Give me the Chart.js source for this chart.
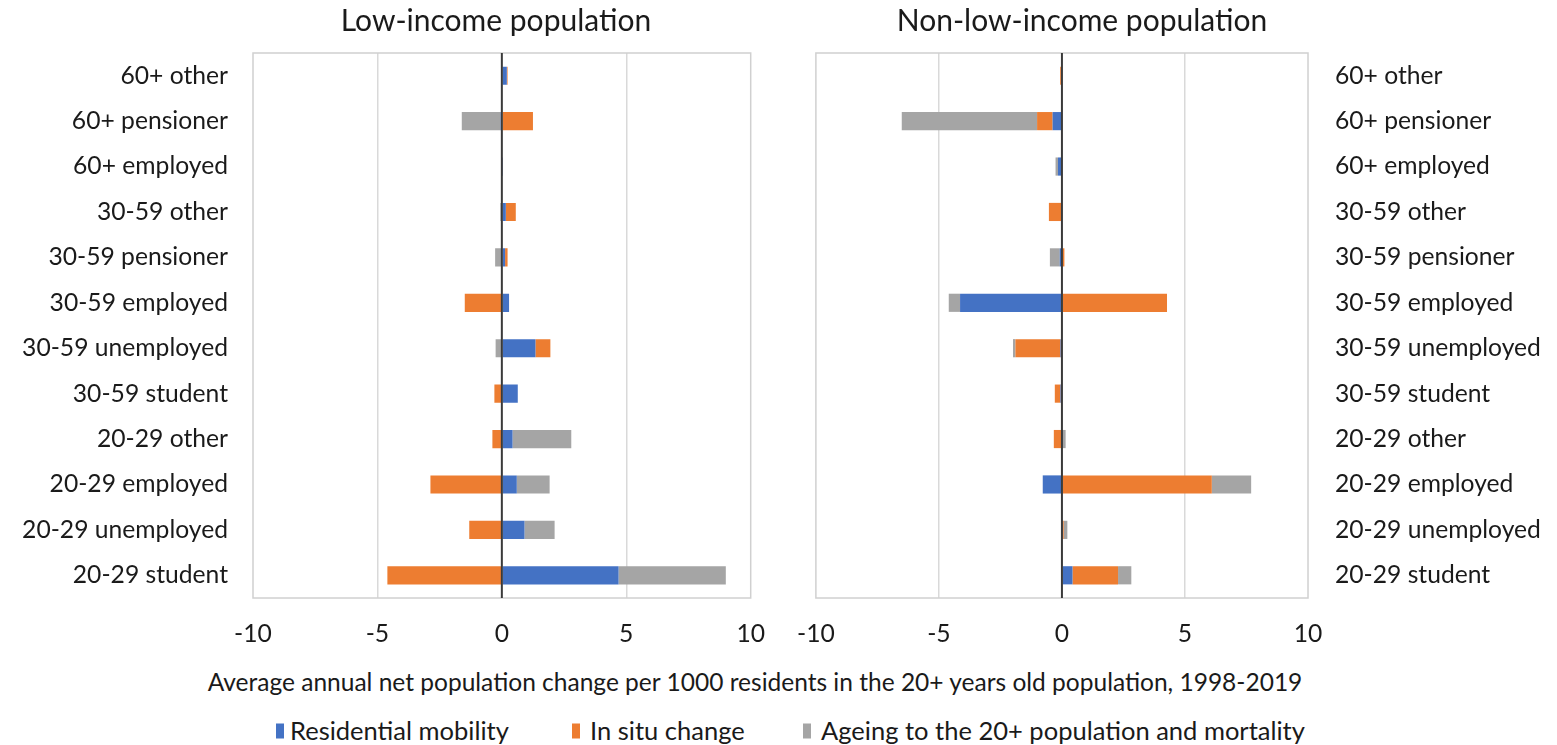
<!DOCTYPE html>
<html><head><meta charset="utf-8">
<script src="https://cdn.jsdelivr.net/npm/chart.js@4.4.1/dist/chart.umd.min.js"></script>
<style>
body{margin:0;background:#fff;}
#wrap{position:relative;width:1557px;height:745px;overflow:hidden;font-family:Lato,sans-serif;color:#1a1a1a;background:#fff}
canvas{position:absolute;top:0}
.t{position:absolute;white-space:nowrap;transform:translate(-50%,-50%);line-height:1}
.lt{position:absolute;white-space:nowrap;transform:translateY(-50%);line-height:1}
.sw{position:absolute;width:8px;height:15px;transform:translateY(-50%)}
</style></head><body>
<div id="wrap">
  <canvas id="c1" width="786" height="660" style="left:0px"></canvas>
  <canvas id="c2" width="781" height="660" style="left:776px"></canvas>
  <div class="t" id="t1" style="left:496px;top:19px">Low-income population</div>
  <div class="t" id="t2" style="left:1082px;top:19px">Non-low-income population</div>
  <div class="t" id="xt" style="left:755px;top:682px">Average annual net population change per 1000 residents in the 20+ years old population, 1998-2019</div>
  <div id="legend"></div>
</div>
<script>
const categories = ["60+ other","60+ pensioner","60+ employed","30-59 other","30-59 pensioner","30-59 employed","30-59 unemployed","30-59 student","20-29 other","20-29 employed","20-29 unemployed","20-29 student"];
const seriesNames = ["Residential mobility","In situ change","Ageing to the 20+ population and mortality"];
const seriesColors = ["#4472C4","#ED7D31","#A5A5A5"];
const xTicks = [-10,-5,0,5,10];

const lowMobility = [0.2, -0.05, 0.01, 0.16, 0.13, 0.29, 1.35, 0.64, 0.43, 0.6, 0.91, 4.69];
const lowInSitu   = [0.03, 1.25, 0, 0.4, 0.1, -1.49, 0.6, -0.3, -0.38, -2.87, -1.31, -4.6];
const lowAgeing   = [-0.03, -1.56, -0.02, -0.06, -0.27, 0, -0.25, 0, 2.36, 1.32, 1.21, 4.31];

const highMobility = [0, -0.38, -0.16, -0.03, -0.09, -4.14, -0.06, -0.06, 0.02, -0.78, 0.02, 0.43];
const highInSitu   = [-0.07, -0.63, 0, -0.5, 0.1, 4.27, -1.83, -0.23, -0.33, 6.09, 0.05, 1.85];
const highAgeing   = [0, -5.5, -0.1, 0, -0.4, -0.46, -0.1, 0, 0.13, 1.6, 0.15, 0.54];

const FONT = 'Lato';
function fit(text, target){
  const c = document.createElement('canvas').getContext('2d');
  c.font = '100px ' + FONT;
  return 100 * target / c.measureText(text).width;
}
const labelSize = fit("30-59 unemployed", 206);
const titleSize = (fit("Low-income population", 311) + fit("Non-low-income population", 370)) / 2;
const axisTitleSize = fit("Average annual net population change per 1000 residents in the 20+ years old population, 1998-2019", 1096);
const legendSize = fit("Ageing to the 20+ population and mortality", 484);

document.getElementById('t1').style.fontSize = titleSize + 'px';
document.getElementById('t2').style.fontSize = titleSize + 'px';
document.getElementById('xt').style.fontSize = axisTitleSize + 'px';

const legendX = [[276,290],[572,590],[803,821]];
const lg = document.getElementById('legend');
seriesNames.forEach((n,i)=>{
  const s = document.createElement('div'); s.className='sw';
  s.style.left = legendX[i][0]+'px'; s.style.top='731px'; s.style.background=seriesColors[i];
  const t = document.createElement('div'); t.className='lt';
  t.style.left = legendX[i][1]+'px'; t.style.top='731px'; t.style.fontSize = legendSize+'px';
  t.textContent = n;
  lg.appendChild(s); lg.appendChild(t);
});

const frame = {
  id:'frame',
  beforeDatasetsDraw(chart){
    const a = chart.chartArea, ctx = chart.ctx;
    ctx.save(); ctx.strokeStyle = '#D0D0D0'; ctx.lineWidth = 1.5;
    ctx.strokeRect(a.left, a.top, a.right - a.left, a.bottom - a.top);
    ctx.restore();
  },
  afterDatasetsDraw(chart){
    const a = chart.chartArea, ctx = chart.ctx;
    const x0 = chart.scales.x.getPixelForValue(0);
    ctx.save(); ctx.strokeStyle = '#3a3a3a'; ctx.lineWidth = 2;
    ctx.beginPath(); ctx.moveTo(x0, a.top); ctx.lineTo(x0, a.bottom); ctx.stroke();
    ctx.restore();
  }
};

function makeChart(id, data, side, padding, yWidth){
  const datasets = data.map((d,i)=>({
    label: seriesNames[i], data: d, backgroundColor: seriesColors[i], borderWidth: 0,
    barPercentage: 0.5, categoryPercentage: 0.8
  }));
  return new Chart(document.getElementById(id), {
    type: 'bar',
    data: { labels: categories, datasets },
    options: {
      indexAxis: 'y', responsive: false, animation: false,
      layout: { padding },
      plugins: { legend: { display: false }, tooltip: { enabled: false } },
      scales: {
        x: {
          type: 'linear', min: xTicks[0], max: xTicks[xTicks.length-1], stacked: true,
          afterBuildTicks: s => { s.ticks = xTicks.map(v => ({ value: v })); },
          ticks: { color: '#1a1a1a', font: { family: FONT, size: labelSize }, padding: 21, maxRotation: 0 },
          grid: { drawTicks: false, color: c => (c.tick && (c.tick.value === 0 || Math.abs(c.tick.value) === 10)) ? 'rgba(0,0,0,0)' : '#D9D9D9', lineWidth: 1.5 },
          border: { display: false },
          afterFit: s => { s.height = 62; }
        },
        y: {
          type: 'category', stacked: true, position: side,
          grid: { display: false, drawTicks: false },
          border: { display: false },
          ticks: { color: '#1a1a1a', font: { family: FONT, size: labelSize }, padding: side === 'left' ? 25 : 27 },
          afterFit: s => { s.width = yWidth; }
        }
      }
    },
    plugins: [frame]
  });
}

makeChart('c1', [lowMobility, lowInSitu, lowAgeing], 'left', { top: 53, right: 0, left: 0, bottom: 0 }, 253);
makeChart('c2', [highMobility, highInSitu, highAgeing], 'right', { top: 53, right: 0, left: 0, bottom: 0 }, 249);
</script>
</body></html>
